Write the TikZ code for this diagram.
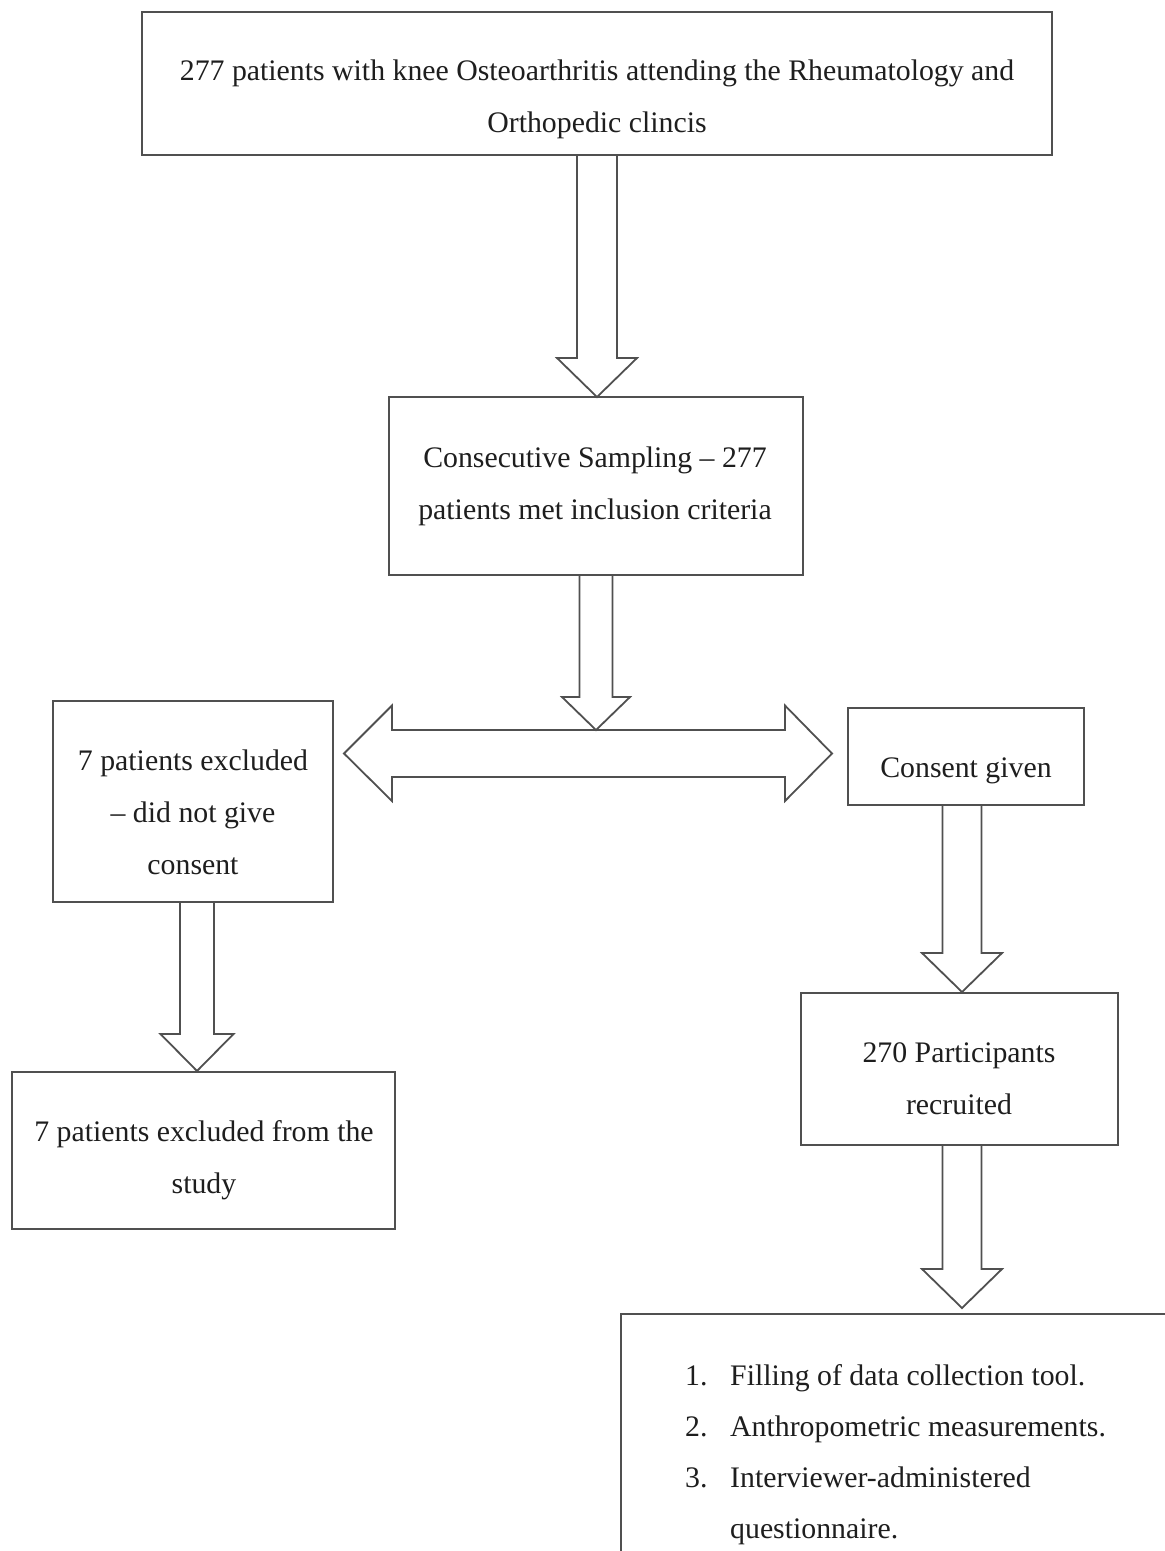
\documentclass[tikz,border=0pt]{standalone}
\usepackage{fontspec}
\setmainfont{Liberation Serif}
\usetikzlibrary{calc}
\definecolor{ln}{RGB}{80,80,80}
\definecolor{tx}{RGB}{30,30,30}
\newcommand\blkdown[5]{% #1 from anchor, #2 tip coordinate, #3 half shaft, #4 half head, #5 head length
  \draw[blk] ($(#1 -| #2)+(-#3,0)$) -- ($(#2)+(-#3,-#5)$) -- ($(#2)+(-#4,-#5)$) -- (#2)
    -- ($(#2)+(#4,-#5)$) -- ($(#2)+(#3,-#5)$) -- ($(#1 -| #2)+(#3,0)$);}
\begin{document}
\begin{tikzpicture}[x=1pt,y=-1pt,
  box/.style={draw=ln,line width=1.8pt,inner sep=0pt,outer sep=0pt},
  txt/.style={text=tx,align=center,inner sep=0pt,font=\fontsize{29.8}{52}\selectfont},
  blk/.style={draw=ln,line width=1.8pt,line join=miter,fill=white}]
\useasboundingbox (0,0) rectangle (1165,1551);
\clip (0,0) rectangle (1165,1551);
\fill[white] (0,0) rectangle (1165,1551);

% box frames (positions)
\path node[box,minimum width=910pt,minimum height=143pt] (top) at (597,83.5) {};
\path node[box,minimum width=414pt,minimum height=178pt] (b2) at (596,486) {};
\path node[box,minimum width=280pt,minimum height=201pt] (ex1) at (193,801.5) {};
\path node[box,minimum width=236pt,minimum height=97pt] (cons) at (966,756.5) {};
\path node[box,minimum width=383pt,minimum height=157pt] (study) at (203.5,1150.5) {};
\path node[box,minimum width=317pt,minimum height=152pt] (rec) at (959.5,1069) {};
\path node[box,minimum width=579pt,minimum height=286pt] (list) at (910.5,1457) {};

% arrow tips
\coordinate (t1) at (597,397);
\coordinate (t2) at (596,730);
\coordinate (t3) at (197,1071);
\coordinate (t4) at (962,992);
\coordinate (t5) at (962,1308);
\coordinate (dl) at (344,753.5);
\coordinate (dr) at (832,753.5);

% double arrow
\draw[blk] ($(dl)+(48,-23.5)$) -- ($(dl)+(48,-48)$) -- (dl) -- ($(dl)+(48,47.5)$) -- ($(dl)+(48,23.5)$)
  -- ($(dr)+(-47,23.5)$) -- ($(dr)+(-47,47.5)$) -- (dr) -- ($(dr)+(-47,-48)$) -- ($(dr)+(-47,-23.5)$) -- cycle;

\blkdown{top.south}{t1}{20}{40}{39}
\blkdown{b2.south}{t2}{16.5}{34}{33}
\blkdown{ex1.south}{t3}{17}{36.5}{37}
\blkdown{cons.south}{t4}{19.5}{40}{39}
\blkdown{rec.south}{t5}{19.5}{40}{39}

% redraw frames on top
\foreach \n in {top,b2,ex1,cons,study,rec,list}
  \draw[draw=ln,line width=1.8pt] (\n.north west) rectangle (\n.south east);

% texts
\node[txt] (toptx) at (597,99) {277 patients with knee Osteoarthritis attending the Rheumatology and\\Orthopedic clincis};
\node[txt] (b2tx) at (595,486) {Consecutive Sampling -- 277\\patients met inclusion criteria};
\node[txt] (ex1tx) at (193,812) {7 patients excluded\\-- did not give\\consent};
\node[txt] (constx) at (966,770.5) {Consent given};
\node[txt] (rectx) at (959,1079) {270 Participants\\recruited};
\node[txt] (studytx) at (204,1160) {7 patients excluded from the\\study};
\node[txt,align=left,anchor=west,font=\fontsize{29.8}{51}\selectfont] (listtx) at (685,1452)
  {\begin{tabular}{@{}p{45pt}@{}l@{}}
   1. & Filling of data collection tool.\\
   2. & Anthropometric measurements.\\
   3. & Interviewer-administered\\
      & questionnaire.
   \end{tabular}};
\end{tikzpicture}
\end{document}
